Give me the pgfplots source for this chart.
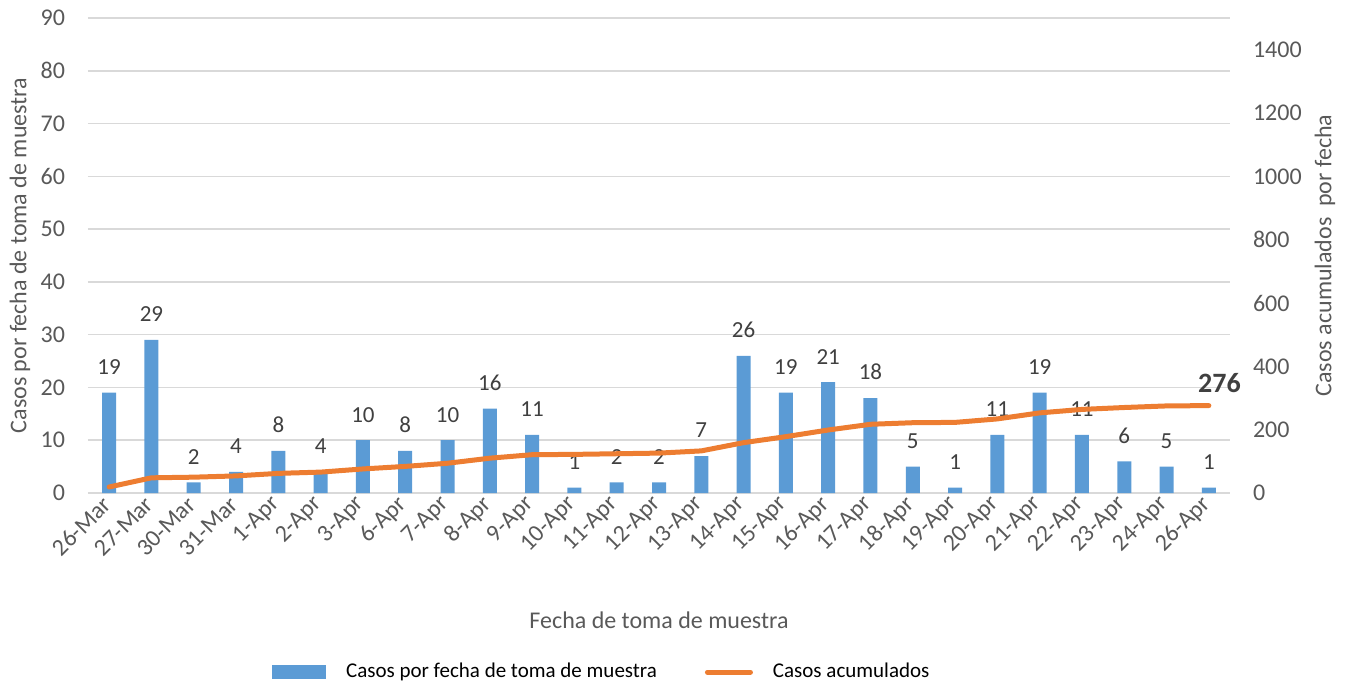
\documentclass[border=0pt]{standalone}
\usepackage{fontspec}
\setmainfont{Carlito}
\usepackage{pgfplots}
\pgfplotsset{compat=1.18}
\definecolor{barblue}{HTML}{5B9BD5}
\definecolor{lineorange}{HTML}{ED7D31}
\definecolor{gridgrey}{HTML}{D9D9D9}
\definecolor{ticktext}{HTML}{595959}
\definecolor{labeltext}{HTML}{404040}

\pgfplotsset{
  base/.style={
    scale only axis, width=571pt, height=237.5pt,
    xmin=-0.5, xmax=26.5,
    /pgf/number format/assume math mode=true,
    /pgf/number format/1000 sep={},
    tick label style={font=\fontsize{12}{14}\selectfont, color=ticktext},
    major tick length=0pt,
    xtick style={draw=none}, ytick style={draw=none},
  }
}

\begin{document}
\begin{tikzpicture}
\useasboundingbox (-44pt,-97pt) rectangle (630pt,246.5pt);
\begin{axis}[base,
  ymin=0, ymax=90, ytick={0,10,...,90},
  xtick={0,...,26},
  xticklabels={26-Mar,27-Mar,30-Mar,31-Mar,1-Apr,2-Apr,3-Apr,6-Apr,7-Apr,8-Apr,9-Apr,10-Apr,11-Apr,12-Apr,13-Apr,14-Apr,15-Apr,16-Apr,17-Apr,18-Apr,19-Apr,20-Apr,21-Apr,22-Apr,23-Apr,24-Apr,26-Apr},
  xticklabel style={rotate=45, anchor=east, yshift=-2pt},
  yticklabel style={xshift=-8pt},
  axis x line*=bottom, axis y line*=left,
  x axis line style={-, gridgrey, line width=0.75pt},
  y axis line style={draw=none},
  ymajorgrids, grid style={gridgrey, line width=0.75pt},
  xlabel={Fecha de toma de muestra},
  ylabel={Casos por fecha de toma de muestra},
  every axis x label/.style={at={(axis description cs:0.5,-0.267)}, anchor=center, font=\fontsize{12}{14}\selectfont, color=ticktext},
  every axis y label/.style={at={(axis description cs:-0.0595,0.5)}, rotate=90, anchor=center, font=\fontsize{12}{14}\selectfont, color=ticktext},
  ybar, bar width=7pt,
  nodes near coords,
  every node near coord/.append style={font=\fontsize{11.5}{13}\selectfont, color=labeltext, yshift=5.5pt},
]
\addplot[fill=barblue, draw=none] coordinates {
(0,19) (1,29) (2,2) (3,4) (4,8) (5,4) (6,10) (7,8) (8,10) (9,16)
(10,11) (11,1) (12,2) (13,2) (14,7) (15,26) (16,19) (17,21) (18,18) (19,5)
(20,1) (21,11) (22,19) (23,11) (24,6) (25,5) (26,1)
};
\end{axis}
\begin{axis}[base,
  ymin=0, ymax=1500, ytick={0,200,...,1400},
  axis x line=none, axis y line*=right,
  y axis line style={draw=none},
  yticklabel style={xshift=8pt},
  clip=false,
  ylabel={Casos acumulados\ \ por fecha},
  every axis y label/.style={at={(axis description cs:1.0832,0.5)}, rotate=90, anchor=center, font=\fontsize{12}{14}\selectfont, color=ticktext},
  legend columns=2,
  legend style={draw=none, fill=none, at={(axis description cs:0.161,-0.377)}, anchor=west, inner xsep=0pt,
    font=\fontsize{10.5}{12}\selectfont,
    /tikz/every odd column/.append style={column sep=8pt},
    /tikz/every even column/.append style={column sep=22pt}},
  legend cell align=left,
]
\addlegendimage{legend image code/.code={\fill[barblue] (0pt,-3.25pt) rectangle (26.5pt,3.25pt);}}
\addlegendentry{Casos por fecha de toma de muestra}
\addplot[lineorange, line width=2.5pt, line cap=round, line join=round, mark=none,
  legend image code/.code={\draw[lineorange, line width=2.5pt, line cap=round] (0pt,0pt) -- (21.5pt,0pt);}] coordinates {
(0,19) (1,48) (2,50) (3,54) (4,62) (5,66) (6,76) (7,84) (8,94) (9,110)
(10,121) (11,122) (12,124) (13,126) (14,133) (15,159) (16,178) (17,199) (18,217) (19,222)
(20,223) (21,234) (22,253) (23,264) (24,270) (25,275) (26,276)
};
\addlegendentry{Casos acumulados}
\node[font=\bfseries\fontsize{14}{16}\selectfont, color=labeltext, anchor=south] at (axis cs:26.25,293) {276};
\end{axis}
\end{tikzpicture}
\end{document}
